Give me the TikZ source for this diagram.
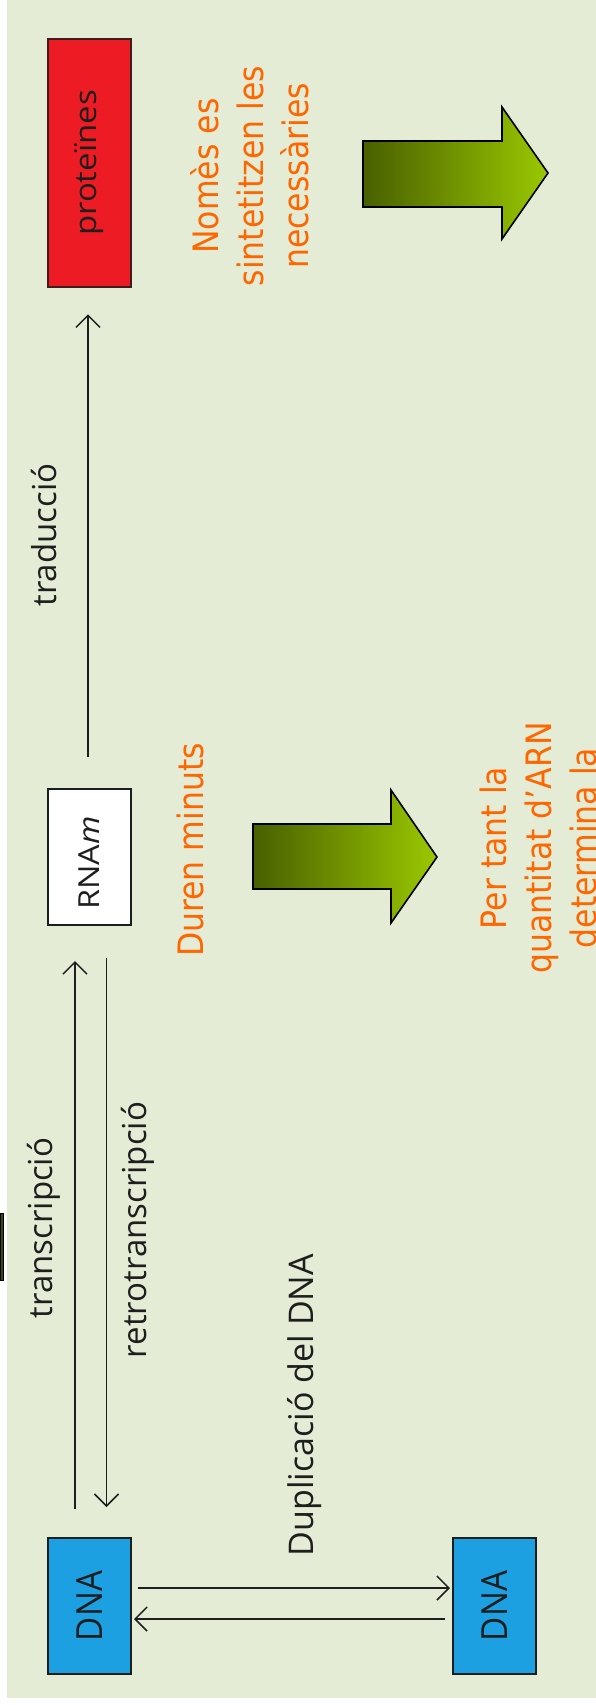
\documentclass[tikz,border=0pt]{standalone}
\usepackage{fontspec}
\setmainfont{Open Sans}
\newfontfamily\notefont{DejaVu Sans}[FakeStretch=0.9]
\usetikzlibrary{arrows.meta}

\definecolor{bgsage}{RGB}{228,236,213}
\definecolor{noteorange}{RGB}{255,102,0}
\definecolor{protred}{RGB}{237,28,36}
\definecolor{protborder}{RGB}{60,30,30}
\definecolor{dnablue}{RGB}{28,160,226}
\definecolor{boxborder}{RGB}{25,30,30}
\definecolor{arrowdark}{RGB}{72,96,0}
\definecolor{arrowlight}{RGB}{154,200,0}
\definecolor{olivebar}{RGB}{60,74,0}
\definecolor{inkgrey}{RGB}{30,30,30}

\tikzset{
  molbox/.style={draw=boxborder, line width=2pt, minimum width=83pt, inner sep=0pt,
    text=inkgrey, font=\fontsize{36pt}{42pt}\selectfont},
  proclabel/.style={rotate=90, inner sep=0pt, text=inkgrey,
    font=\fontsize{33pt}{40pt}\selectfont},
  note/.style={rotate=90, inner sep=0pt, align=center, text=noteorange,
    font=\notefont\fontsize{35pt}{45pt}\selectfont},
  conn/.style={draw=inkgrey, line width=1.5pt,
    -{Straight Barb[length=12pt,width=24pt,line width=1.5pt]}},
  bigarrow/.style={draw=black, line width=1.6pt, line join=miter,
    left color=arrowdark, right color=arrowlight}
}

\begin{document}
\begin{tikzpicture}[x=1pt,y=-1pt]
  \useasboundingbox (0,0) rectangle (596,1705);
  \fill[white] (0,0) rectangle (596,1705);
  \fill[bgsage] (7,0) rectangle (596,1698);
  \filldraw[fill=olivebar, draw=black, line width=0.8pt] (0,1213) rectangle (3.3,1280);

  % molecules
  \node[molbox, fill=protred, draw=protborder, line width=2.5pt, minimum height=248pt,
        font=\fontsize{30pt}{36pt}\selectfont]
    (prot) at (89.5,163) {\rotatebox{90}{\scalebox{1.1}[1]{proteïnes}}};
  \node[molbox, fill=white, minimum height=136pt, font=\fontsize{29pt}{34pt}\selectfont]
    (rna) at (89.5,857) {\rotatebox{90}{\scalebox{1.12}[1]{RNA\textit{m}}\hspace{12pt}}};
  \node[molbox, fill=dnablue, minimum height=136pt] (dna1) at (89.5,1606)
    {\rotatebox{90}{\scalebox{0.92}[1]{DNA}}};
  \node[molbox, fill=dnablue, minimum height=136pt] (dna2) at (494.5,1606)
    {\rotatebox{90}{\scalebox{0.92}[1]{DNA}}};

  % process labels
  \node[proclabel] (trad) at (44,535) {traducció};
  \node[proclabel] (trans) at (44,1228) {transcripció};
  \node[proclabel] (retro) at (138,1230) {retrotranscripció};
  \node[proclabel, font=\fontsize{34pt}{40pt}\selectfont] (dup) at (305,1405) {Duplicació del DNA};

  % process arrows
  \draw[conn] ([xshift=-1.5pt,yshift=31pt]rna.north) -- ([xshift=-1.5pt,yshift=-26pt]prot.south);
  \draw[conn] ([xshift=-14.5pt,yshift=28pt]dna1.north) -- ([xshift=-14.5pt,yshift=-35pt]rna.south);
  \draw[conn] ([xshift=17pt,yshift=-32pt]rna.south) -- ([xshift=17pt,yshift=30pt]dna1.north);
  \draw[conn] ([xshift=6pt,yshift=18pt]dna1.east) -- ([xshift=-2pt,yshift=18pt]dna2.west);
  \draw[conn] ([xshift=-7pt,yshift=-13pt]dna2.west) -- ([xshift=2pt,yshift=-13pt]dna1.east);

  % block arrows
  \draw[bigarrow] (363,141) -- (502,141) -- (502,107) -- (548,173) -- (502,239)
    -- (502,207) -- (363,207) -- cycle;
  \draw[bigarrow] (253,824) -- (391,824) -- (391,790) -- (437,857) -- (391,923)
    -- (391,889) -- (253,889) -- cycle;

  % notes
  \node[note] (nomes) at (250,176) {Nomès es\\sintetitzen les\\necessàries};
  \node[note] (duren) at (190,850) {Duren minuts};
  \node[note] (pertant) at (538,848) {Per tant la\\quantitat d’ARN\\determina la};
\end{tikzpicture}
\end{document}
